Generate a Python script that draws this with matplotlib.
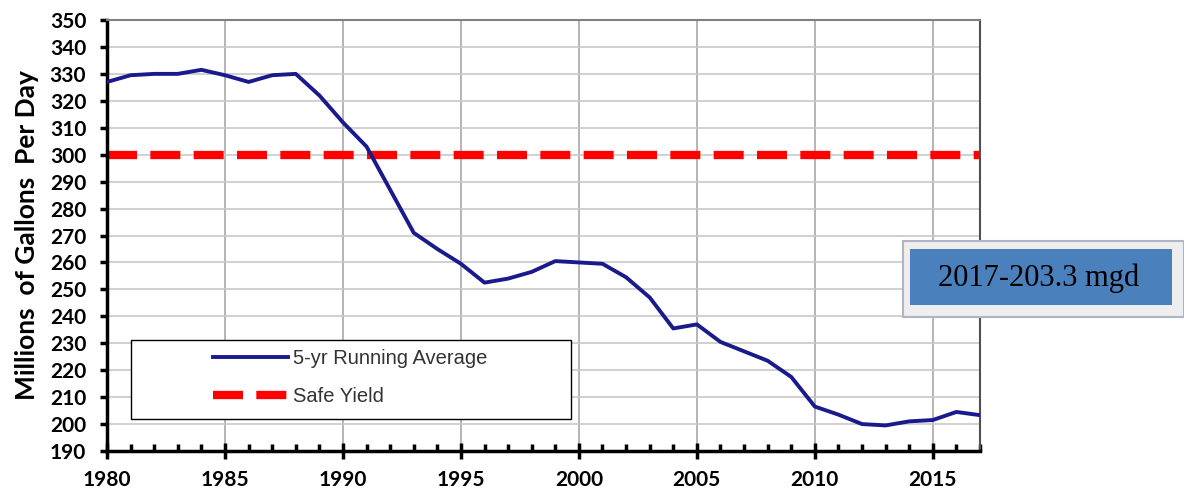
import matplotlib
matplotlib.use("Agg")
import matplotlib.pyplot as plt
from matplotlib.ticker import MultipleLocator
from matplotlib.patches import Rectangle

years = list(range(1980, 2018))
running_avg = [327, 329.5, 330, 330, 331.5, 329.5, 327, 329.5, 330, 322,
               312, 303, 287, 271, 265, 259.5, 252.5, 254, 256.5, 260.5,
               260, 259.5, 254.5, 247, 235.5, 237, 230.5, 227, 223.5, 217.5,
               206.5, 203.5, 200, 199.5, 201, 201.5, 204.5, 203.3]
safe_yield = 300
note = "2017-203.3 mgd"

plt.rcParams['font.family'] = ['Lato', 'DejaVu Sans']

fig = plt.figure(figsize=(11.84, 5.0), dpi=100)
ax = fig.add_axes([107 / 1184, 49 / 500, 873 / 1184, 431 / 500])

ax.plot(years, running_avg, color='#1a1a8c', lw=2.8, label='5-yr Running Average',
        solid_joinstyle='round', zorder=3)
ax.axhline(safe_yield, color='#ff0000', lw=6, ls=(0, (3.6, 1.6)),
           label='Safe Yield', zorder=2)

ax.set_xlim(1980, 2017)
ax.set_ylim(190, 350)
ax.xaxis.set_major_locator(MultipleLocator(5))
ax.xaxis.set_minor_locator(MultipleLocator(1))
ax.yaxis.set_major_locator(MultipleLocator(10))

ax.grid(True, axis='y', color='#c8c8c8', lw=1.2)
ax.grid(True, axis='x', which='major', color='#a8a8a8', lw=1.2)
ax.set_axisbelow(True)

for side in ['left', 'bottom']:
    ax.spines[side].set_linewidth(2.5)
    ax.spines[side].set_color('black')
ax.spines['top'].set_color('#808080')
ax.spines['top'].set_linewidth(1.5)
ax.spines['right'].set_color('#505050')
ax.spines['right'].set_linewidth(1.5)

ax.tick_params(axis='x', which='major', direction='inout', length=12, width=2.5,
               labelsize=15, pad=8)
ax.tick_params(axis='x', which='minor', direction='in', length=5, width=2.5)
ax.tick_params(axis='y', which='major', direction='out', length=5, width=2.5,
               labelsize=15, pad=10)
for lab in ax.get_xticklabels() + ax.get_yticklabels():
    lab.set_fontweight('bold')

ax.set_ylabel('Millions  of Gallons  Per Day', fontsize=19, fontweight='bold', labelpad=8)

# legend entries without frame, frame drawn as a separate box
leg = ax.legend(loc='upper left', bbox_to_anchor=(106 / 873, 102 / 431),
                frameon=False, prop={'family': 'Liberation Sans', 'size': 14.5},
                handlelength=3.7, labelspacing=0.95, borderpad=0, borderaxespad=0,
                handletextpad=0.25)
for t in leg.get_texts():
    t.set_color('#333333')
ax.add_patch(Rectangle((24 / 873, 32 / 431), 440 / 873, 79 / 431, transform=ax.transAxes,
                       facecolor='white', edgecolor='black', lw=1.0, zorder=4))
leg.set_zorder(5)

# annotation box with shadow frame
fig.patches.append(Rectangle((903 / 1184, 1 - 317 / 500), 281 / 1184, 76 / 500,
                             transform=fig.transFigure, facecolor='#eeeeee',
                             edgecolor='#b0b4c4', lw=1.5, zorder=5))
fig.patches.append(Rectangle((910 / 1184, 1 - 305 / 500), 262 / 1184, 56 / 500,
                             transform=fig.transFigure, facecolor='#4a80bb',
                             edgecolor='none', zorder=6))
fig.text(1039 / 1184, 1 - 278 / 500, note, fontsize=22, family='Liberation Serif',
         color='black', ha='center', va='center', zorder=7)

fig.savefig('out.png', dpi=100)
